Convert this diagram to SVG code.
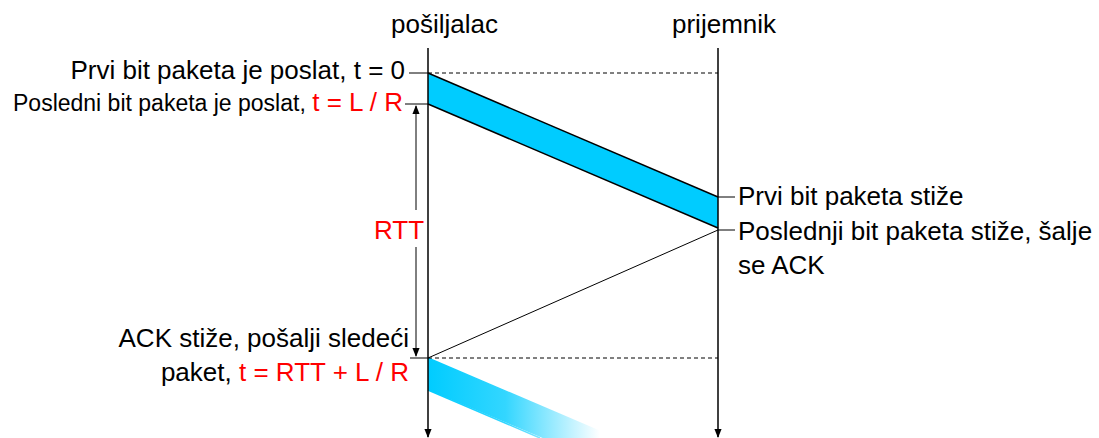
<svg xmlns="http://www.w3.org/2000/svg" width="1099" height="438" viewBox="0 0 1099 438">
<style>
text{font-family:"Liberation Sans",Arial,sans-serif;fill:#000}
.l{font-size:26px}
.s{font-size:23px}
.r{fill:#ff0000}
.ln{stroke:#000;stroke-width:1.5;fill:none}
.th{stroke:#000;stroke-width:1;fill:none}
.d{stroke:#000;stroke-width:1;stroke-dasharray:4 3;fill:none}
</style>
<defs>
<marker id="ah" viewBox="0 0 10 10" refX="9" refY="5" markerWidth="9" markerHeight="9" markerUnits="userSpaceOnUse" orient="auto"><path d="M0,1 L10,5 L0,9 z" fill="#000"/></marker>
<linearGradient id="fade" x1="428" y1="0" x2="600" y2="0" gradientUnits="userSpaceOnUse"><stop offset="0" stop-color="#00ccff"/><stop offset="0.45" stop-color="#33d6ff"/><stop offset="1" stop-color="#ffffff"/></linearGradient>
</defs>
<g id="bands">
<polygon points="428,73 718,197 718,228 428,104" fill="#00ccff" stroke="none"/>
<line class="ln" x1="428" y1="73" x2="718" y2="197"/>
<line class="ln" x1="428" y1="104" x2="718" y2="228"/>
<polygon points="428,358 600,431.5 600,462 428,390" fill="url(#fade)" stroke="none"/>
<line x1="428" y1="358" x2="600" y2="431.5" stroke="url(#fade)" stroke-width="1.5"/>
<line x1="428" y1="390" x2="540" y2="438" stroke="url(#fade)" stroke-width="1.5"/>
</g>
<g id="sender">
<line class="ln" x1="428" y1="48" x2="428" y2="437" marker-end="url(#ah)"/>
<text class="l" x="391" y="33">pošiljalac</text>
</g>
<g id="receiver">
<line class="ln" x1="718" y1="48" x2="718" y2="437" marker-end="url(#ah)"/>
<text class="l" x="672" y="33">prijemnik</text>
</g>
<g id="connectors">
<line class="d" x1="428" y1="73" x2="718" y2="73"/>
<line class="d" x1="428" y1="358" x2="718" y2="358"/>
<line class="th" x1="718" y1="230" x2="428" y2="358"/>
<line class="th" x1="409" y1="73" x2="428" y2="73"/>
<line class="th" x1="405" y1="104" x2="428" y2="104"/>
<line class="th" x1="410" y1="358" x2="428" y2="358"/>
<line class="th" x1="718" y1="197" x2="735" y2="197"/>
<line class="th" x1="718" y1="230" x2="735" y2="230"/>
<line class="th" x1="416" y1="210" x2="416" y2="106" marker-end="url(#ah)"/>
<line class="th" x1="416" y1="247" x2="416" y2="356" marker-end="url(#ah)"/>
</g>
<g id="labels">
<text class="l" x="405" y="79" text-anchor="end">Prvi bit paketa je poslat, t = 0</text>
<text x="403" y="111" text-anchor="end"><tspan class="s">Posledni bit paketa je poslat, </tspan><tspan class="l r">t = L / R</tspan></text>
<text class="l r" x="399" y="239" text-anchor="middle">RTT</text>
<text class="l" x="409" y="347" text-anchor="end">ACK stiže, pošalji sledeći</text>
<text class="l" x="409" y="381" text-anchor="end">paket, <tspan class="r">t = RTT + L / R</tspan></text>
<text class="l" x="738" y="205">Prvi bit paketa stiže</text>
<text class="l" x="738" y="240">Poslednji bit paketa stiže, šalje</text>
<text class="l" x="738" y="274">se ACK</text>
</g>
</svg>
